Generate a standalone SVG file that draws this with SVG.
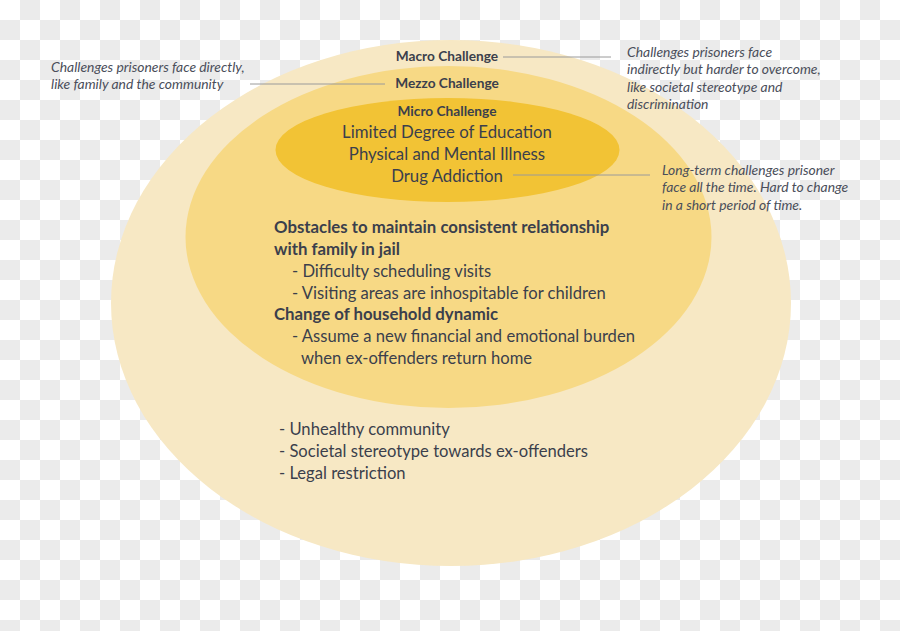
<svg xmlns="http://www.w3.org/2000/svg" width="900" height="631" viewBox="0 0 900 631">
<defs>
<pattern id="checker" x="0" y="0" width="40" height="40" patternUnits="userSpaceOnUse">
<path d="M20 0h20v20h-20z M0 20h20v20h-20z" fill="#ebebeb"/>
</pattern>
<style>
.t{font-family:Lato,"Noto Sans",sans-serif;fill:#3b3f4c;}
.h{font-size:13.7px;font-weight:bold;text-anchor:middle;}
.c{font-size:16.8px;text-anchor:middle;}
.b{font-size:16.6px;}
.bb{font-size:16.8px;font-weight:bold;}
.n{font-family:Lato,"Noto Sans",sans-serif;font-style:italic;font-size:13.9px;fill:#4a4e5a;}
.ln{stroke:#9a9a9a;stroke-width:1;fill:none;}
</style>
</defs>
<g id="background">
<rect width="900" height="631" fill="#ffffff"/>
<rect width="900" height="631" fill="url(#checker)"/>
</g>
<g id="macro">
<ellipse cx="451" cy="303" rx="340" ry="263" fill="#f7e8c4"/>
<text class="t h" x="447" y="61">Macro Challenge</text>
<text class="t b" x="279" y="435">- Unhealthy community</text>
<text class="t b" x="279" y="457">- Societal stereotype towards ex-offenders</text>
<text class="t b" x="279" y="479">- Legal restriction</text>
</g>
<g id="mezzo">
<ellipse cx="448.5" cy="237" rx="263" ry="171" fill="#f7d985"/>
<text class="t h" x="447" y="88">Mezzo Challenge</text>
<text class="t bb" x="274" y="233">Obstacles to maintain consistent relationship</text>
<text class="t bb" x="274" y="255">with family in jail</text>
<text class="t b" x="292" y="277">- Difficulty scheduling visits</text>
<text class="t b" x="292" y="299">- Visiting areas are inhospitable for children</text>
<text class="t bb" x="274" y="320">Change of household dynamic</text>
<text class="t b" x="292" y="342">- Assume a new financial and emotional burden</text>
<text class="t b" x="301" y="364">when ex-offenders return home</text>
</g>
<g id="micro">
<ellipse cx="447.5" cy="150" rx="172" ry="52" fill="#f2c335"/>
<text class="t h" x="447" y="116">Micro Challenge</text>
<text class="t c" x="447" y="138">Limited Degree of Education</text>
<text class="t c" x="447" y="160">Physical and Mental Illness</text>
<text class="t c" x="447" y="182">Drug Addiction</text>
</g>
<g id="connectors">
<line class="ln" x1="250" y1="84" x2="385" y2="84"/>
<line class="ln" x1="503" y1="57" x2="611" y2="57"/>
<line class="ln" x1="513" y1="175" x2="650" y2="175"/>
</g>
<g id="note-mezzo">
<text class="n" x="51" y="72">Challenges prisoners face directly,</text>
<text class="n" x="51" y="89">like family and the community</text>
</g>
<g id="note-macro">
<text class="n" x="627" y="57">Challenges prisoners face</text>
<text class="n" x="627" y="74">indirectly but harder to overcome,</text>
<text class="n" x="627" y="92">like societal stereotype and</text>
<text class="n" x="627" y="109">discrimination</text>
</g>
<g id="note-micro">
<text class="n" x="662" y="175">Long-term challenges prisoner</text>
<text class="n" x="662" y="192">face all the time. Hard to change</text>
<text class="n" x="662" y="210">in a short period of time.</text>
</g>
</svg>
